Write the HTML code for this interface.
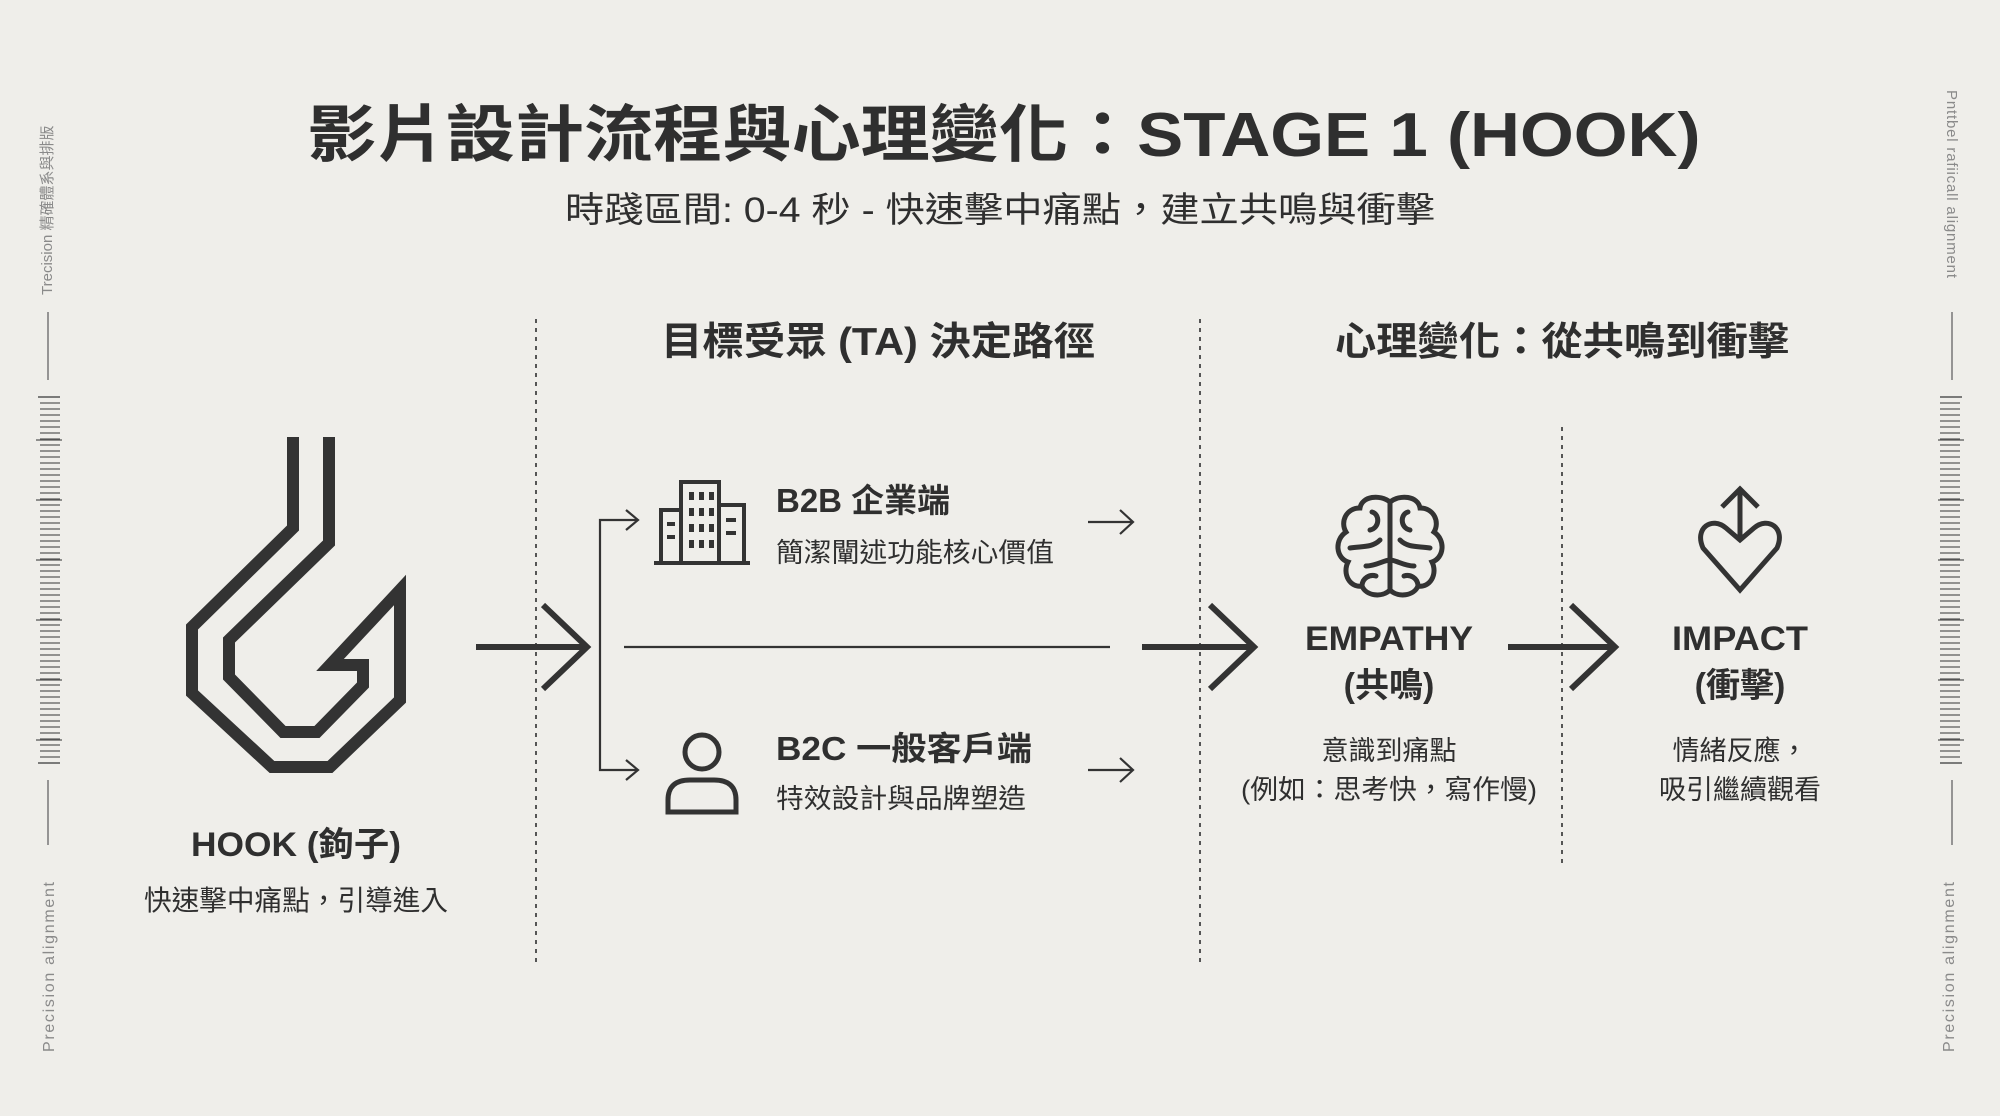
<!DOCTYPE html>
<html><head><meta charset="utf-8"><style>
html,body{margin:0;padding:0;background:#efeeea;}
svg{display:block}
text{font-family:"Liberation Sans","Noto Sans CJK TC",sans-serif;fill:#2f2f2f}
</style></head><body>
<svg width="2000" height="1116" viewBox="0 0 2000 1116" xmlns="http://www.w3.org/2000/svg">
<rect width="2000" height="1116" fill="#efeeea"/>
<defs>
<pattern id="ruler" x="0" y="0" width="10" height="6" patternUnits="userSpaceOnUse">
<line x1="0" y1="1" x2="10" y2="1" stroke="#555" stroke-width="1.2"/>
</pattern>
</defs>
<!-- side decorations left -->
<text transform="translate(52,295) rotate(-90)" font-size="15" style="fill:#8a8a8a">Trecision 精確體系與排版</text>
<line x1="48" y1="312" x2="48" y2="380" stroke="#777" stroke-width="1.5"/>
<line x1="38" y1="397" x2="60" y2="397" stroke="#555" stroke-width="1.5"/>
<rect x="40" y="400" width="20" height="360" fill="url(#ruler)"/>
<g stroke="#555" stroke-width="1.3"><line x1="36" y1="440" x2="62" y2="440"/><line x1="36" y1="500" x2="62" y2="500"/><line x1="36" y1="560" x2="62" y2="560"/><line x1="36" y1="620" x2="62" y2="620"/><line x1="36" y1="680" x2="62" y2="680"/><line x1="36" y1="740" x2="62" y2="740"/></g>
<line x1="38" y1="763" x2="60" y2="763" stroke="#555" stroke-width="1.5"/>
<line x1="48" y1="780" x2="48" y2="845" stroke="#777" stroke-width="1.5"/>
<text transform="translate(54,1052) rotate(-90)" font-size="16" textLength="170" style="fill:#8a8a8a">Precision alignment</text>
<!-- right -->
<text transform="translate(1947,90) rotate(90)" font-size="15" textLength="188" style="fill:#8a8a8a">Pnttbel rafiicall alignment</text>
<line x1="1952" y1="312" x2="1952" y2="380" stroke="#777" stroke-width="1.5"/>
<line x1="1940" y1="397" x2="1962" y2="397" stroke="#555" stroke-width="1.5"/>
<rect x="1940" y="400" width="20" height="360" fill="url(#ruler)"/>
<g stroke="#555" stroke-width="1.3"><line x1="1938" y1="440" x2="1964" y2="440"/><line x1="1938" y1="500" x2="1964" y2="500"/><line x1="1938" y1="560" x2="1964" y2="560"/><line x1="1938" y1="620" x2="1964" y2="620"/><line x1="1938" y1="680" x2="1964" y2="680"/><line x1="1938" y1="740" x2="1964" y2="740"/></g>
<line x1="1940" y1="763" x2="1962" y2="763" stroke="#555" stroke-width="1.5"/>
<line x1="1952" y1="780" x2="1952" y2="845" stroke="#777" stroke-width="1.5"/>
<text transform="translate(1954,1052) rotate(-90)" font-size="16" textLength="170" style="fill:#8a8a8a">Precision alignment</text>

<!-- title -->
<text x="1004" y="156" font-size="62" font-weight="bold" text-anchor="middle" textLength="1393" lengthAdjust="spacingAndGlyphs">影片設計流程與心理變化：STAGE 1 (HOOK)</text>
<text x="1000" y="222" font-size="35" text-anchor="middle" textLength="870" lengthAdjust="spacingAndGlyphs">時踐區間: 0-4 秒 - 快速擊中痛點，建立共鳴與衝擊</text>

<!-- dashed separators -->
<g stroke="#555" stroke-width="2" stroke-dasharray="4,5">
<line x1="536" y1="319" x2="536" y2="966"/>
<line x1="1200" y1="319" x2="1200" y2="966"/>
<line x1="1562" y1="427" x2="1562" y2="868"/>
</g>

<text x="878" y="355" font-size="39" font-weight="bold" text-anchor="middle" textLength="434" lengthAdjust="spacingAndGlyphs">目標受眾 (TA) 決定路徑</text>
<text x="1562" y="355" font-size="39" font-weight="bold" text-anchor="middle" textLength="454" lengthAdjust="spacingAndGlyphs">心理變化：從共鳴到衝擊</text>

<!-- hook -->
<path d="M329,437 L329,543 L229,640 L229,677 L283,732 L317,732 L363,685 L363,665 L330,665 L400,590 L400,700 L330,767 L272,767 L192,693 L192,627 L293,528 L293,437" fill="none" stroke="#333" stroke-width="12" stroke-linejoin="miter"/>
<text x="296" y="856" font-size="34" font-weight="bold" text-anchor="middle" textLength="210" lengthAdjust="spacingAndGlyphs">HOOK (鉤子)</text>
<text x="296" y="910" font-size="28" text-anchor="middle" textLength="304" lengthAdjust="spacingAndGlyphs">快速擊中痛點，引導進入</text>

<!-- arrows -->
<g fill="none" stroke="#333" stroke-width="6">
<line x1="476" y1="647" x2="585" y2="647"/><polyline points="543,605 587,647 543,689"/>
<line x1="1142" y1="647" x2="1252" y2="647"/><polyline points="1210,605 1254,647 1210,689"/>
<line x1="1508" y1="647" x2="1613" y2="647"/><polyline points="1571,605 1615,647 1571,689"/>
</g>
<g fill="none" stroke="#333" stroke-width="2.2">
<line x1="624" y1="647" x2="1110" y2="647"/>
<polyline points="638,520 600,520 600,770 638,770"/>
<polyline points="626,510 638,520 626,530"/>
<polyline points="626,760 638,770 626,780"/>
<line x1="1088" y1="522" x2="1133" y2="522"/><polyline points="1120,510 1133,522 1120,534"/>
<line x1="1088" y1="770" x2="1133" y2="770"/><polyline points="1120,758 1133,770 1120,782"/>
</g>

<!-- building -->
<g fill="none" stroke="#333" stroke-width="4">
<line x1="654" y1="563" x2="750" y2="563"/>
<rect x="661" y="510" width="20" height="53"/>
<rect x="681" y="482" width="38" height="81"/>
<rect x="719" y="505" width="25" height="58"/>
</g>
<g fill="#333">
<rect x="689" y="492" width="5" height="8"/><rect x="699" y="492" width="5" height="8"/><rect x="709" y="492" width="5" height="8"/>
<rect x="689" y="508" width="5" height="8"/><rect x="699" y="508" width="5" height="8"/><rect x="709" y="508" width="5" height="8"/>
<rect x="689" y="524" width="5" height="8"/><rect x="699" y="524" width="5" height="8"/><rect x="709" y="524" width="5" height="8"/>
<rect x="689" y="540" width="5" height="8"/><rect x="699" y="540" width="5" height="8"/><rect x="709" y="540" width="5" height="8"/>
<rect x="667" y="522" width="8" height="4"/><rect x="667" y="535" width="8" height="4"/>
<rect x="726" y="518" width="10" height="4"/><rect x="726" y="531" width="10" height="4"/>
</g>
<text x="776" y="512" font-size="33" font-weight="bold">B2B 企業端</text>
<text x="776" y="562" font-size="27" textLength="278" lengthAdjust="spacingAndGlyphs">簡潔闡述功能核心價值</text>

<!-- person -->
<g fill="none" stroke="#333" stroke-width="5">
<circle cx="702" cy="752" r="17"/>
<path d="M668,812 L668,800 Q668,780 690,780 L714,780 Q736,780 736,800 L736,812 Z"/>
</g>
<text x="776" y="760" font-size="33" font-weight="bold" textLength="256" lengthAdjust="spacingAndGlyphs">B2C 一般客戶端</text>
<text x="776" y="808" font-size="27" textLength="250" lengthAdjust="spacingAndGlyphs">特效設計與品牌塑造</text>

<!-- brain -->
<g fill="none" stroke="#333" stroke-width="5" stroke-linecap="round">
<path d="M1390,502 C1380,494 1362,496 1360,508 C1346,508 1340,522 1346,532 C1334,540 1336,558 1348,562 C1342,574 1350,588 1362,586 C1366,596 1382,598 1390,590 C1398,598 1414,596 1418,586 C1430,588 1438,574 1432,562 C1444,558 1446,540 1434,532 C1440,522 1434,508 1420,508 C1418,496 1400,494 1390,502 Z"/>
<line x1="1390" y1="502" x2="1390" y2="590"/>
<path d="M1372,512 C1380,514 1380,528 1370,530"/>
<path d="M1408,512 C1400,514 1400,528 1410,530"/>
<path d="M1350,548 C1362,546 1372,548 1380,540"/>
<path d="M1430,548 C1418,546 1408,548 1400,540"/>
<path d="M1366,566 C1376,566 1384,560 1390,560"/>
<path d="M1414,566 C1404,566 1396,560 1390,560"/>
<path d="M1362,586 C1362,578 1370,574 1376,576"/>
<path d="M1418,586 C1418,578 1410,574 1404,576"/>
</g>
<text x="1389" y="650" font-size="34" font-weight="bold" text-anchor="middle" textLength="168" lengthAdjust="spacingAndGlyphs">EMPATHY</text>
<text x="1389" y="697" font-size="34" font-weight="bold" text-anchor="middle">(共鳴)</text>
<text x="1389" y="760" font-size="27" text-anchor="middle">意識到痛點</text>
<text x="1389" y="799" font-size="27" text-anchor="middle" textLength="296" lengthAdjust="spacingAndGlyphs">(例如：思考快，寫作慢)</text>

<!-- impact -->
<g fill="none" stroke="#333" stroke-width="5">
<line x1="1740" y1="540" x2="1740" y2="490"/>
<polyline points="1722,507 1740,489 1758,507"/>
<path d="M1740,540 L1726,528 C1712,516 1694,528 1703,548 L1740,590 L1777,548 C1786,528 1768,516 1754,528 Z"/>
</g>
<text x="1740" y="650" font-size="34" font-weight="bold" text-anchor="middle" textLength="136" lengthAdjust="spacingAndGlyphs">IMPACT</text>
<text x="1740" y="697" font-size="34" font-weight="bold" text-anchor="middle">(衝擊)</text>
<text x="1740" y="760" font-size="27" text-anchor="middle">情緒反應，</text>
<text x="1740" y="799" font-size="27" text-anchor="middle">吸引繼續觀看</text>
</svg>
</body></html>
